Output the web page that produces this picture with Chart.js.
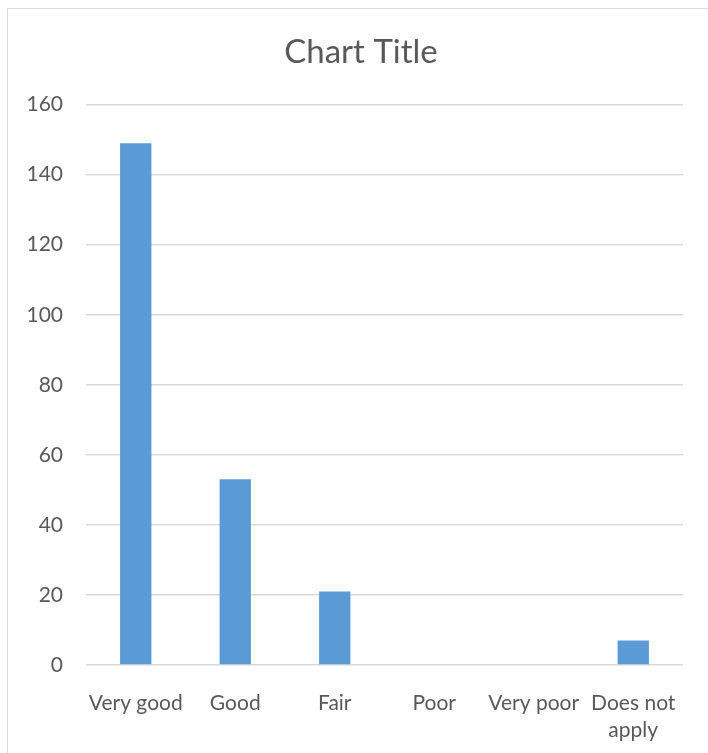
<!DOCTYPE html>
<html>
<head>
<meta charset="utf-8">
<script src="https://cdn.jsdelivr.net/npm/chart.js@4/dist/chart.umd.min.js"></script>
<style>
  body { margin: 0; background: #fff; }
  #wrap { position: relative; width: 708px; height: 753px; overflow: hidden; }
  #frame { position: absolute; left: 7px; top: 8px; width: 760px; height: 800px; border: 1px solid #d9d9d9; pointer-events: none; }
</style>
</head>
<body>
<div id="wrap">
  <canvas id="myChart" width="708" height="753"></canvas>
  <div id="frame"></div>
</div>
<script>
// Datos del grafico
const categorias = ["Very good", "Good", "Fair", "Poor", "Very poor", ["Does not", "apply"]];
const valores = [149, 53, 21, 0, 0, 7];
const tituloGrafico = "Chart Title";
const ejeYMin = 0;
const ejeYMax = 160;
const ejeYPaso = 20;

const colorTexto = "#595959";
const colorGrilla = "#d9d9d9";
const fuente = "Lato, 'Open Sans', sans-serif";

// El titulo en el original esta centrado sobre el area del grafico incluyendo el eje Y
const moverTitulo = {
  id: "moverTitulo",
  afterLayout(chart) {
    const t = chart.titleBlock;
    if (t) { t.left = 39; t.right = chart.chartArea.right; }
  },
};

const data = {
  labels: categorias,
  datasets: [
    {
      label: "Series1",
      data: valores,
      backgroundColor: "#5b9bd5",
      categoryPercentage: 1,
      barPercentage: 0.315,
    },
  ],
};

const config = {
  type: "bar",
  data: data,
  plugins: [moverTitulo],
  options: {
    responsive: false,
    animation: false,
    layout: { padding: { left: 0, right: 25, top: 33, bottom: 0 } },
    plugins: {
      legend: { display: false },
      tooltip: { enabled: false },
      title: {
        display: true,
        text: tituloGrafico,
        color: colorTexto,
        font: { family: fuente, size: 33, weight: "normal", lineHeight: 1.2 },
        padding: { top: 0, bottom: 32 },
      },
    },
    scales: {
      x: {
        grid: { display: false },
        border: { display: false },
        ticks: {
          color: colorTexto,
          font: { family: fuente, size: 21, lineHeight: 1.28 },
          padding: 17,
          maxRotation: 0,
          autoSkip: false,
        },
        afterFit: (scale) => { scale.height = 88; },
      },
      y: {
        min: ejeYMin,
        max: ejeYMax,
        grid: { color: colorGrilla, lineWidth: 1.5, drawTicks: false },
        border: { display: false },
        ticks: {
          stepSize: ejeYPaso,
          color: colorTexto,
          font: { family: fuente, size: 21 },
          padding: 23,
        },
        afterFit: (scale) => { scale.width = 86; },
      },
    },
  },
};

new Chart(document.getElementById("myChart"), config);
</script>
</body>
</html>
